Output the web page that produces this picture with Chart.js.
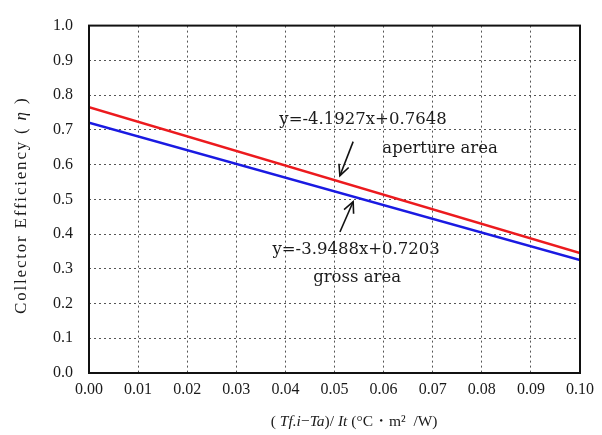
<!DOCTYPE html>
<html>
<head>
<meta charset="utf-8">
<script src="https://cdn.jsdelivr.net/npm/chart.js@4"></script>
<style>
  html, body { margin: 0; padding: 0; background: #fff; }
  #wrap { width: 602px; height: 435px; }
</style>
</head>
<body>
<div id="wrap"><canvas id="effChart" width="602" height="435"></canvas></div>
<script>
// data (end points of the two fitted lines)
const xValues = [0.0, 0.1];
const apertureEff = [0.7648, 0.3455];
const grossEff = [0.7203, 0.3254];
const xTicks = [0, 0.01, 0.02, 0.03, 0.04, 0.05, 0.06, 0.07, 0.08, 0.09, 0.10];
const yTicks = [0, 0.1, 0.2, 0.3, 0.4, 0.5, 0.6, 0.7, 0.8, 0.9, 1.0];

const eqAperture = 'y=-4.1927x+0.7648';
const eqGross = 'y=-3.9488x+0.7203';

const tickFont = { family: 'Liberation Serif', size: 16 };
const noteFont = '16.5px "DejaVu Serif"';

function arrow(ctx, x1, y1, x2, y2) {
    ctx.beginPath();
    ctx.moveTo(x1, y1);
    ctx.lineTo(x2, y2);
    ctx.stroke();
    const a = Math.atan2(y2 - y1, x2 - x1);
    const h = 12;
    ctx.beginPath();
    ctx.moveTo(x2 - h * Math.cos(a - 0.45), y2 - h * Math.sin(a - 0.45));
    ctx.lineTo(x2, y2);
    ctx.lineTo(x2 - h * Math.cos(a + 0.45), y2 - h * Math.sin(a + 0.45));
    ctx.stroke();
}

// draws text made of plain / italic pieces, centred on (cx, cy)
function mixedText(ctx, parts, size, cx, cy, spacing) {
    const f = it => (it ? 'italic ' : '') + size + 'px "Liberation Serif"';
    ctx.letterSpacing = spacing + 'px';
    let total = 0;
    parts.forEach(p => { ctx.font = f(p[1]); total += ctx.measureText(p[0]).width; });
    let x = cx - total / 2;
    ctx.textAlign = 'left';
    parts.forEach(p => {
        ctx.font = f(p[1]);
        ctx.fillText(p[0], x, cy);
        x += ctx.measureText(p[0]).width;
    });
    ctx.letterSpacing = '0px';
}

const extras = {
    id: 'extras',
    afterDraw(chart) {
        const { ctx, chartArea: ca, scales } = chart;
        const X = v => scales.x.getPixelForValue(v);
        const Y = v => scales.y.getPixelForValue(v);
        ctx.save();
        // frame
        ctx.strokeStyle = '#111';
        ctx.lineWidth = 2;
        ctx.strokeRect(ca.left, ca.top, ca.right - ca.left, ca.bottom - ca.top);

        // notes
        ctx.fillStyle = '#1a1a1a';
        ctx.font = noteFont;
        ctx.textAlign = 'center';
        ctx.textBaseline = 'middle';
        ctx.fillText(eqAperture, X(0.0558), Y(0.728));
        ctx.fillText('aperture area', X(0.0715), Y(0.647));
        ctx.fillText(eqGross, X(0.0544), Y(0.355));
        ctx.fillText('gross area', X(0.0546), Y(0.274));

        ctx.strokeStyle = '#111';
        ctx.lineWidth = 1.6;
        arrow(ctx, X(0.0538), Y(0.666), X(0.0511), Y(0.568));
        arrow(ctx, X(0.0511), Y(0.406), X(0.0538), Y(0.493));

        // y axis title
        ctx.save();
        ctx.translate(22, (ca.top + ca.bottom) / 2 + 6);
        ctx.rotate(-Math.PI / 2);
        mixedText(ctx, [['Collector Efficiency (', false], [' η ', true], [')', false]], 17, 0, 0, 1.8);
        ctx.restore();

        // x axis title with italic parts
        mixedText(ctx, [
            ['( ', false], ['Tf.i', true], ['−', false], ['Ta', true], [')/ ', false],
            ['It', true], [' (°C・m²  /W)', false]
        ], 15.5, X(0.054), 422, 0);
        ctx.restore();
    }
};

new Chart(document.getElementById('effChart'), {
    type: 'line',
    data: {
        labels: xValues,
        datasets: [
            {
                label: 'aperture area',
                data: xValues.map((x, i) => ({ x: x, y: apertureEff[i] })),
                borderColor: '#ec1a1e',
                borderWidth: 2.5,
                pointRadius: 0
            },
            {
                label: 'gross area',
                data: xValues.map((x, i) => ({ x: x, y: grossEff[i] })),
                borderColor: '#1a1ae2',
                borderWidth: 2.5,
                pointRadius: 0
            }
        ]
    },
    options: {
        responsive: false,
        animation: false,
        layout: { padding: { left: 0, right: 22, top: 16, bottom: 0 } },
        plugins: { legend: { display: false }, tooltip: { enabled: false } },
        scales: {
            x: {
                type: 'linear',
                min: 0,
                max: 0.1,
                afterBuildTicks: s => { s.ticks = xTicks.map(v => ({ value: v })); },
                afterFit: s => { s.height = 62; },
                ticks: {
                    padding: 7,
                    color: '#1a1a1a',
                    font: tickFont,
                    callback: v => v.toFixed(2)
                },
                grid: { color: '#555', lineWidth: 1, drawTicks: false },
                border: { display: false, dash: [2, 3] }
            },
            y: {
                min: 0,
                max: 1,
                afterBuildTicks: s => { s.ticks = yTicks.map(v => ({ value: v })); },
                afterFit: s => { s.width = 89; },
                ticks: {
                    padding: 16,
                    color: '#1a1a1a',
                    font: tickFont,
                    callback: v => v.toFixed(1)
                },
                grid: { color: '#555', lineWidth: 1, drawTicks: false },
                border: { display: false, dash: [2, 3] }
            }
        }
    },
    plugins: [extras]
});
</script>
</body>
</html>
